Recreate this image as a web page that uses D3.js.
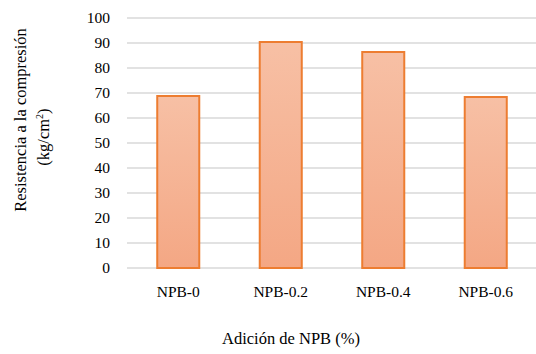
<!DOCTYPE html>
<html><head><meta charset="utf-8">
<script src="https://cdn.jsdelivr.net/npm/d3@7"></script>
<style>body{margin:0;background:#fff}svg{display:block}</style>
</head><body><svg id="c" width="536" height="354"></svg>
<script>
const categories = ["NPB-0","NPB-0.2","NPB-0.4","NPB-0.6"];
const values = [68.8, 90.4, 86.4, 68.4];
const yTicks = [0,10,20,30,40,50,60,70,80,90,100];
const yTitle = "Resistencia a la compresión";
const xTitle = "Adición de NPB (%)";
const FONT = "'Times New Roman', 'Liberation Serif', serif";

const svg = d3.select("#c");
const L = 127, R = 537, T = 18, B = 268;
const x = d3.scaleBand().domain(categories).range([L, R]).paddingInner(0.59).paddingOuter(0.295);
const y = d3.scaleLinear().domain([0,100]).range([B, T]);

const defs = svg.append("defs");
const g = defs.append("linearGradient").attr("id","bg").attr("x1",0).attr("y1",0).attr("x2",0).attr("y2",1);
g.append("stop").attr("offset","0%").attr("stop-color","#f7c0a5");
g.append("stop").attr("offset","100%").attr("stop-color","#f4a784");

svg.append("g").selectAll("line").data(yTicks).join("line")
  .attr("x1", L).attr("x2", 536).attr("y1", d=>y(d)).attr("y2", d=>y(d))
  .attr("stroke","#d9d9d9").attr("stroke-width",1.5);

svg.append("g").selectAll("text").data(yTicks).join("text")
  .attr("x", 110).attr("y", d=>y(d)).attr("dy","0.35em").attr("text-anchor","end")
  .attr("font-size","15.5px").text(d=>d);

svg.append("g").selectAll("rect").data(values).join("rect")
  .attr("x",(d,i)=>x(categories[i])).attr("width",x.bandwidth())
  .attr("y",d=>y(d)).attr("height",d=>B-y(d))
  .attr("fill","url(#bg)").attr("stroke","#ed7d31").attr("stroke-width",2);

svg.append("g").selectAll("text").data(categories).join("text")
  .attr("x",d=>x(d)+x.bandwidth()/2).attr("y",297).attr("text-anchor","middle")
  .attr("font-size","15.5px").text(d=>d);

svg.append("text").attr("x",291).attr("y",344).attr("text-anchor","middle")
  .attr("font-size","16.5px").text(xTitle);

svg.append("text").attr("transform","translate(26,120) rotate(-90)")
  .attr("text-anchor","middle").attr("font-size","16.5px").text(yTitle);
const yt2 = svg.append("text").attr("transform","translate(49,137) rotate(-90)")
  .attr("text-anchor","middle").attr("font-size","16.5px");
yt2.append("tspan").text("(kg/cm");
yt2.append("tspan").attr("font-size","10px").attr("dy","-6").text("2");
yt2.append("tspan").attr("dy","6").text(")");

svg.selectAll("text").attr("font-family", FONT).attr("fill","#000");
</script></body></html>
